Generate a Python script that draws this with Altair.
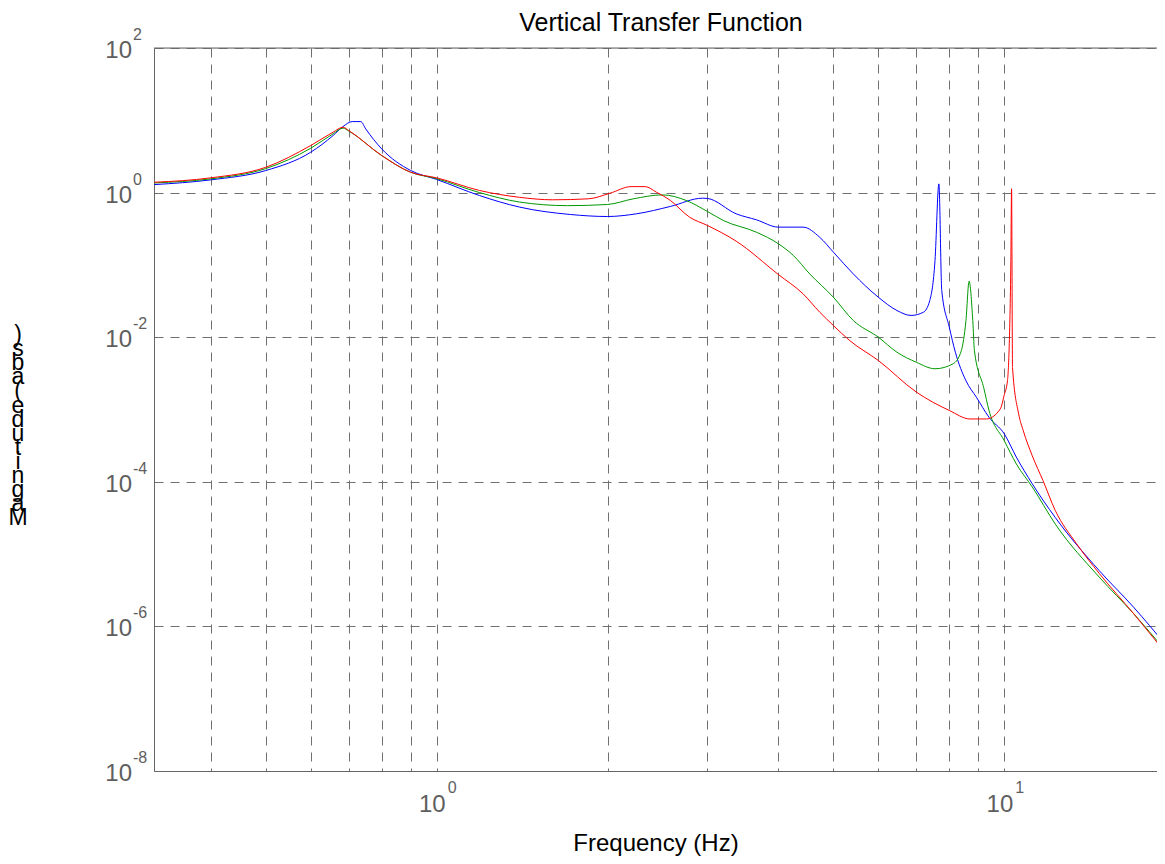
import altair as alt
import pandas as pd

# ---------------- data ----------------
series_names = ["Case 1", "Case 2", "Case 3"]
series_colors = ["#0000ff", "#009900", "#ff0000"]

freq_blue = [0.318, 0.4, 0.5, 0.6, 0.657, 0.684, 0.71, 0.721, 0.735, 0.75, 0.8, 0.9, 1.0, 1.19,
             1.4, 1.72, 2.0, 2.25, 2.58, 2.94, 3.0, 3.37, 3.66, 4.0, 4.42, 4.73, 5.0, 5.42,
             6.0, 6.47, 6.85, 7.2, 7.39, 7.55, 7.67, 7.76, 8.0, 8.2, 8.56, 8.93, 9.4, 10.0,
             10.5, 11.2, 12.3, 14.7, 16.9, 19.19]
mag_blue = [1.29, 1.50, 2.02, 3.62, 6.16, 8.2, 9.6, 9.6, 9.6, 7.6, 4.03, 2.02, 1.52, 0.91,
            0.63, 0.498, 0.467, 0.509, 0.643, 0.837, 0.83, 0.509, 0.42, 0.333, 0.333, 0.241, 0.15, 0.075,
            0.0357, 0.0234, 0.020, 0.0221, 0.032, 0.115, 1.32, 0.044, 0.0138, 0.0062, 0.0025, 0.00148, 0.00078, 0.00046,
            0.00022, 9.4e-5, 3.2e-5, 5.9e-6, 1.84e-6, 5.7e-7]

freq_green = [0.318, 0.4, 0.5, 0.6, 0.657, 0.684, 0.7, 0.8, 0.9, 1.0, 1.19, 1.4, 1.7, 2.0,
              2.22, 2.5, 2.75, 3.0, 3.2, 3.66, 4.0, 4.25, 4.54, 5.0, 5.42, 6.0, 6.47, 7.0,
              7.55, 8.13, 8.4, 8.56, 8.67, 8.8, 8.86, 9.2, 9.4, 10.0, 10.5, 11.2, 12.3, 14.7,
              16.9, 19.19]
mag_green = [1.36, 1.55, 2.15, 4.11, 6.5, 7.8, 7.1, 3.26, 1.91, 1.56, 1.0, 0.74, 0.66, 0.685,
             0.82, 0.93, 0.78, 0.548, 0.411, 0.283, 0.196, 0.135, 0.0753, 0.0357, 0.017, 0.01, 0.0062, 0.0045,
             0.00366, 0.0043, 0.0065, 0.017, 0.0595, 0.017, 0.0065, 0.002, 0.00097, 0.00037, 0.000177, 8.5e-5, 2.6e-5, 4.8e-6,
             1.5e-6, 4.7e-7]

freq_red = [0.318, 0.4, 0.5, 0.6, 0.657, 0.684, 0.7, 0.8, 0.9, 1.0, 1.19, 1.4, 1.6, 1.85,
            2.02, 2.2, 2.33, 2.44, 2.58, 2.79, 3.0, 3.37, 4.0, 4.42, 4.73, 5.0, 5.34, 6.0,
            7.0, 8.0, 8.7, 9.3, 9.84, 10.0, 10.13, 10.2, 10.27, 10.3, 10.34, 10.6, 10.8, 11.2,
            11.7, 12.3, 13.4, 14.7, 16.9, 19.19]
mag_red = [1.39, 1.60, 2.24, 4.48, 6.85, 8.03, 7.22, 3.26, 1.91, 1.60, 1.07, 0.86, 0.795, 0.82,
           0.98, 1.21, 1.21, 1.01, 0.78, 0.457, 0.351, 0.213, 0.0736, 0.0398, 0.0222, 0.0145, 0.009, 0.00476,
           0.00174, 0.00097, 0.00074, 0.00074, 0.00102, 0.0016, 0.0025, 0.0073, 0.115, 1.13, 0.0038, 0.00087, 0.00051, 0.00023,
           0.000104, 4.0e-5, 1.4e-5, 5.4e-6, 1.5e-6, 4.4e-7]

x_grid = [0.4, 0.5, 0.6, 0.7, 0.8, 0.9, 1, 2, 3, 4, 5, 6, 7, 8, 9, 10]
y_grid = [1e-8, 1e-6, 1e-4, 1e-2, 1e0, 1e2]

x_tick_vals = [1, 10]
x_tick_exp = ["0", "1"]
y_tick_vals = [1e2, 1e0, 1e-2, 1e-4, 1e-6, 1e-8]
y_tick_exp = ["2", "0", "-2", "-4", "-6", "-8"]

title_text = "Vertical Transfer Function"
x_title = "Frequency (Hz)"
y_title = "Magnitude (abs)"

# ---------------- build tables ----------------
rows = []
for name, fs, ms in zip(series_names, [freq_blue, freq_green, freq_red], [mag_blue, mag_green, mag_red]):
    for f, m in zip(fs, ms):
        rows.append({"series": name, "freq": f, "mag": m})
df = pd.DataFrame(rows)

xt = pd.DataFrame({"v": x_tick_vals, "e": x_tick_exp, "b": ["10"] * len(x_tick_vals)})
yt = pd.DataFrame({"v": y_tick_vals, "e": y_tick_exp, "b": ["10"] * len(y_tick_vals)})
# the reference shows the y title as upright characters stacked bottom-to-top
stack_chars = [c if c != " " else "\u00a0" for c in reversed(list(y_title))]
ylab = pd.DataFrame({"t": ["\n".join(stack_chars)]})
ttl = pd.DataFrame({"t": [title_text]})
top = pd.DataFrame({"v": [1e2]})

W, H = 1003, 723
FONT = "Liberation Sans"
GRID = "#707070"
AX = "#666666"
LBL = "#5e5e5e"

x_scale = alt.Scale(type="log", domain=[0.3177, 18.58], nice=False)
y_scale = alt.Scale(type="log", domain=[1e-8, 1e2], nice=False)

lines = alt.Chart(df).mark_line(strokeWidth=1, interpolate="monotone", clip=True).encode(
    x=alt.X("freq:Q", scale=x_scale,
            axis=alt.Axis(values=x_grid, labels=False, ticks=False, grid=True,
                          gridDash=[9, 7], gridColor=GRID, gridWidth=1,
                          domainColor=AX, domainWidth=1,
                          title=x_title, titleFont=FONT, titleFontSize=24,
                          titleFontWeight="normal", titleColor="black", titlePadding=60)),
    y=alt.Y("mag:Q", scale=y_scale,
            axis=alt.Axis(values=y_grid, labels=False, ticks=False, grid=True,
                          gridDash=[9, 7], gridColor=GRID, gridWidth=1,
                          domainColor=AX, domainWidth=1, title=None)),
    color=alt.Color("series:N", scale=alt.Scale(domain=series_names, range=series_colors), legend=None),
    order=alt.Order("freq:Q"),
)

top_rule = alt.Chart(top).mark_rule(color=AX, strokeWidth=1).encode(
    y=alt.Y("v:Q", scale=y_scale)
)

x_base = alt.Chart(xt).mark_text(align="right", baseline="alphabetic", fontSize=24, font=FONT,
                                 color=LBL, dx=9).encode(
    x=alt.X("v:Q", scale=x_scale), y=alt.value(H + 41), text="b:N")
x_exp = alt.Chart(xt).mark_text(align="left", baseline="alphabetic", fontSize=16, font=FONT,
                                color=LBL, dx=11).encode(
    x=alt.X("v:Q", scale=x_scale), y=alt.value(H + 22), text="e:N")

y_base = alt.Chart(yt).mark_text(align="right", baseline="alphabetic", fontSize=24, font=FONT,
                                 color=LBL, dy=10).encode(
    y=alt.Y("v:Q", scale=y_scale), x=alt.value(-22), text="b:N")
y_exp = alt.Chart(yt).mark_text(align="left", baseline="alphabetic", fontSize=16, font=FONT,
                                color=LBL, dy=-8).encode(
    y=alt.Y("v:Q", scale=y_scale), x=alt.value(-21), text="e:N")

y_label = alt.Chart(ylab).mark_text(lineBreak="\n", lineHeight=14.1, fontSize=23, font=FONT,
                                    align="center", baseline="middle", color="black").encode(
    text="t:N", x=alt.value(-136), y=alt.value(287))

title_mark = alt.Chart(ttl).mark_text(fontSize=25, font=FONT, align="center", baseline="alphabetic",
                                      color="black").encode(
    text="t:N", x=alt.value(507), y=alt.value(-17))

chart = alt.layer(lines, top_rule, x_base, x_exp, y_base, y_exp, y_label, title_mark).properties(
    width=W, height=H,
    autosize=alt.AutoSizeParams(type="none"),
    padding={"left": 146, "top": 40, "right": 0, "bottom": 85},
).configure_view(stroke=None).configure(background="white")

chart.save("out.html", embed_options={"renderer": "svg", "actions": False})
